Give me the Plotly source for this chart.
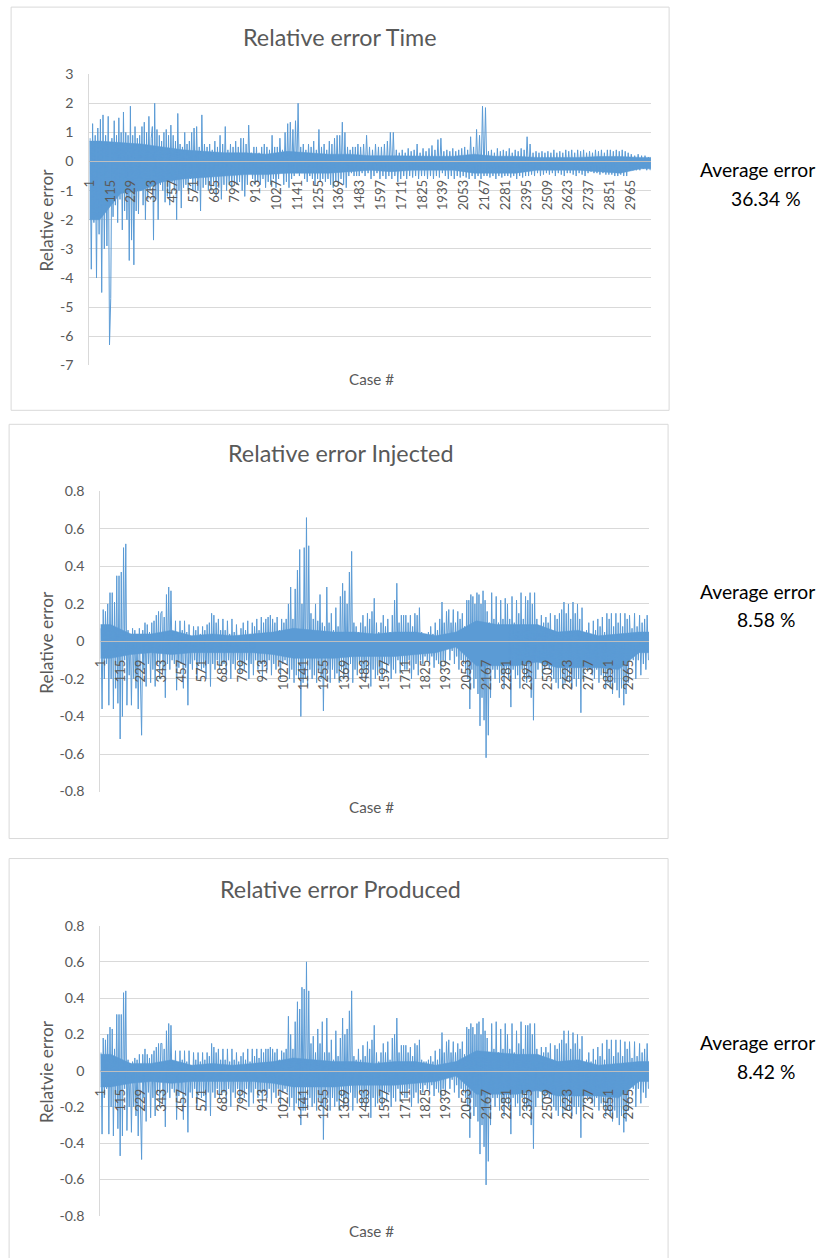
import plotly.graph_objects as go

# ---------------- data ----------------
N_CASES = 3077
SEG_LEN = 114
case_labels = [1, 115, 229, 343, 457, 571, 685, 799, 913, 1027, 1141, 1255, 1369,
               1483, 1597, 1711, 1825, 1939, 2053, 2167, 2281, 2395, 2509, 2623,
               2737, 2851, 2965]
time_yticks = [3, 2, 1, 0, -1, -2, -3, -4, -5, -6, -7]
frac_yticks = [0.8, 0.6, 0.4, 0.2, 0, -0.2, -0.4, -0.6, -0.8]

# Relative error Time (values read per 114-case block, alternating peaks/troughs)
time_seg = [
    [0.8, -3.7, 1.3, -2.1, 0.9, -4.0, 1.15, -2.5, 1.45, -4.5, 1.6, -3.0, 0.9, -2.9, 1.55, -6.3],
    [-4.7, 0.8, -1.9, 1.4, -1.5, 0.9, -2.1, 1.5, -1.3, 1.0, -2.35, 1.7, -1.7, 1.0, -2.0, 0.9, -3.4, 1.9],
    [-2.7, 0.9, -3.55, 1.2, -1.7, 0.8, -1.8, 0.9, -1.0, 1.2, -1.5, 1.35, -2.0, 1.0, -1.3, 1.55, -1.0, 0.8],
    [1.2, -2.7, 2.0, -1.3, 1.1, -2.0, 0.9, -0.8, 0.7, -1.0, 1.0, -1.4, 1.1, -1.2, 0.9, -1.5, 1.25, -0.7],
    [0.9, -1.0, 0.7, -2.0, 1.65, -1.0, 0.6, -1.6, 0.5, -0.9, 1.0, -0.8, 0.6, -1.0, 0.7, -0.6, 1.0, -1.0],
    [1.15, -1.0, 1.2, -1.0, 0.5, -1.7, 1.6, -0.9, 0.6, -0.8, 0.5, -1.0, 0.6, -1.0, 0.4, -0.7],
    [0.7, -1.2, 0.5, -0.9, 0.9, -1.3, 0.6, -0.8, 1.2, -1.0, 0.4, -0.8, 0.6, -0.9, 0.5, -0.7],
    [0.7, -0.8, 0.5, -0.7, 0.8, -1.0, 0.8, -1.2, 0.6, -0.8, 1.25, -0.3, 0.3, -0.6, 0.5, -0.8],
    [0.5, -0.7, 0.3, -0.8, 0.5, -0.6, 0.6, -0.9, 0.5, -0.7, 0.4, -0.8, 0.9, -0.6, 0.5, -0.9],
    [0.5, -0.6, 0.8, -0.2, 0.4, -0.8, 1.0, -0.7, 1.3, -0.9, 1.35, -0.6, 1.1, -0.5, 1.4, -0.4],
    [2.0, -0.5, 0.5, -0.4, 0.6, -0.6, 0.4, -0.7, 0.6, -0.5, 0.5, -0.6, 0.7, -0.8, 0.4, -0.6],
    [1.1, -0.7, 0.5, -0.6, 0.6, -0.7, 0.4, -0.6, 0.7, -0.8, 0.6, -0.9, 0.8, -0.7, 0.9, -0.8],
    [0.9, -0.6, 1.35, -0.8, 1.0, -0.9, 0.5, -0.5, 0.4, -0.4, 0.5, -0.5, 0.5, -0.5, 0.6, -0.5],
    [0.5, -0.4, 0.6, -0.5, 0.9, -0.4, 0.5, -0.6, 0.4, -0.5, 0.6, -0.4, 0.5, -0.6],
    [0.5, -0.5, 0.6, -0.6, 0.7, -0.5, 1.0, -0.6, 1.0, -0.5, 0.4, -0.7, 0.3, -0.6],
    [0.4, -0.5, 0.3, -0.6, 0.45, -0.5, 0.35, -0.55, 0.4, -0.5, 0.6, -0.6, 0.3, -0.5],
    [0.45, -0.5, 0.35, -0.6, 0.45, -0.5, 0.55, -0.6, 0.4, -0.5, 0.75, -0.55, 0.8, -0.4],
    [0.35, -0.5, 0.4, -0.6, 0.35, -0.5, 0.45, -0.6, 0.35, -0.5, 0.4, -0.55, 0.45, -0.5],
    [0.5, -0.55, 0.4, -0.6, 0.85, -0.5, 0.5, -0.6, 1.1, -0.5, 0.9, -0.6, 1.9, -0.5],
    [1.85, -0.5, 0.35, -0.55, 0.4, -0.5, 0.3, -0.6, 0.45, -0.5, 0.35, -0.55, 0.4, -0.5],
    [0.35, -0.5, 0.45, -0.55, 0.3, -0.5, 0.4, -0.6, 0.35, -0.5, 0.45, -0.55, 0.4, -0.5],
    [0.85, -0.5, 0.6, -0.45, 0.3, -0.5, 0.35, -0.4, 0.3, -0.5, 0.35, -0.45, 0.3, -0.4],
    [0.35, -0.45, 0.3, -0.4, 0.4, -0.5, 0.3, -0.4, 0.35, -0.45, 0.3, -0.5, 0.4, -0.4],
    [0.35, -0.4, 0.4, -0.45, 0.3, -0.5, 0.4, -0.4, 0.35, -0.45, 0.4, -0.5, 0.3, -0.4],
    [0.35, -0.35, 0.3, -0.4, 0.4, -0.4, 0.35, -0.45, 0.4, -0.4, 0.3, -0.45, 0.4, -0.45],
    [0.4, -0.45, 0.35, -0.5, 0.4, -0.5, 0.35, -0.45, 0.4, -0.5, 0.35, -0.5, 0.3, -0.3],
    [0.25, -0.3, 0.2, -0.3, 0.25, -0.3, 0.2, -0.25, 0.2, -0.3, 0.15, -0.3],
]
# dense (solid-looking) band around zero, per 114-case block
time_base_hi = [0.7, 0.65, 0.6, 0.5, 0.4, 0.35, 0.3, 0.3, 0.25, 0.35, 0.3, 0.25, 0.25, 0.2,
                0.2, 0.18, 0.18, 0.18, 0.25, 0.18, 0.18, 0.14, 0.14, 0.14, 0.17, 0.17, 0.14]
time_base_lo = [-2.0, -1.1, -1.0, -0.7, -0.6, -0.55, -0.5, -0.45, -0.45, -0.4, -0.4, -0.4,
                -0.35, -0.3, -0.35, -0.3, -0.3, -0.3, -0.4, -0.4, -0.4, -0.3, -0.3, -0.3,
                -0.35, -0.4, -0.25]

# Relative error Injected
inj_seg = [
    [0.07, -0.36, 0.17, -0.2, 0.16, -0.12, 0.2, -0.34, 0.26, -0.2, 0.26, -0.36, 0.21, -0.25, 0.35, -0.33, 0.35, -0.52],
    [0.37, -0.4, 0.5, -0.1, 0.52, -0.34, 0.06, -0.18, 0.04, -0.34, 0.07, -0.2, 0.06, -0.25, 0.03, -0.36, 0.07, -0.15],
    [-0.5, 0.06, -0.15, 0.1, -0.24, 0.09, -0.12, 0.05, -0.22, 0.1, -0.15, 0.11, -0.24, 0.14, -0.12, 0.16, -0.2, 0.15],
    [0.16, -0.15, 0.13, -0.3, 0.25, -0.12, 0.29, -0.15, 0.27, -0.1, 0.05, -0.12, 0.11, -0.26, 0.04, -0.14, 0.11, -0.12],
    [0.06, -0.25, 0.11, -0.14, 0.05, -0.34, 0.09, -0.12, 0.02, -0.15, 0.08, -0.1, 0.06, -0.2, 0.08, -0.12, 0.04, -0.15],
    [0.08, -0.14, 0.06, -0.2, 0.09, -0.12, 0.1, -0.24, 0.15, -0.12, 0.14, -0.15, 0.1, -0.1, 0.12, -0.15, 0.06, -0.12],
    [0.12, -0.12, 0.06, -0.18, 0.11, -0.1, 0.04, -0.2, 0.12, -0.12, 0.05, -0.15, 0.09, -0.1, 0.03, -0.17, 0.07, -0.12],
    [0.1, -0.15, 0.06, -0.1, 0.11, -0.2, 0.04, -0.12, 0.1, -0.18, 0.08, -0.1, 0.12, -0.15, 0.06, -0.12, 0.13, -0.2],
    [0.1, -0.12, 0.12, -0.15, 0.13, -0.1, 0.14, -0.18, 0.12, -0.12, 0.1, -0.15, 0.13, -0.1, 0.06, -0.2, 0.12, -0.12],
    [0.1, -0.1, 0.12, -0.12, 0.2, -0.2, 0.29, -0.15, 0.12, -0.22, 0.28, -0.18, 0.38, -0.2, 0.49, -0.4, 0.2, -0.22],
    [0.5, -0.2, 0.66, -0.24, 0.51, -0.15, 0.15, -0.2, 0.12, -0.18, 0.2, -0.22, 0.11, -0.15, 0.25, -0.2, 0.1, -0.37],
    [0.08, -0.2, 0.29, -0.15, 0.1, -0.22, 0.15, -0.15, 0.06, -0.2, 0.18, -0.17, 0.08, -0.22, 0.24, -0.15, 0.31, -0.2],
    [0.27, -0.15, 0.2, -0.2, 0.37, -0.12, 0.48, -0.22, 0.1, -0.15, 0.08, -0.18, 0.05, -0.12, 0.1, -0.2, 0.14, -0.15],
    [0.08, -0.2, 0.15, -0.15, 0.12, -0.24, 0.16, -0.15, 0.23, -0.2, 0.1, -0.18, 0.05, -0.15, 0.1, -0.2, 0.14, -0.12],
    [0.08, -0.17, 0.12, -0.12, 0.05, -0.2, 0.14, -0.15, 0.22, -0.17, 0.31, -0.1, 0.1, -0.17, 0.14, -0.12, 0.14, -0.15],
    [0.14, -0.15, 0.1, -0.1, 0.14, -0.2, 0.08, -0.15, 0.15, -0.12, 0.14, -0.18, 0.18, -0.1, 0.05, -0.12, 0.04, -0.08],
    [0.04, -0.1, 0.05, -0.12, 0.08, -0.08, 0.04, -0.14, 0.1, -0.1, 0.06, -0.12, 0.12, -0.15, 0.21, -0.1, 0.1, -0.12],
    [0.16, -0.03, 0.17, -0.1, 0.1, -0.05, 0.17, -0.12, 0.1, -0.08, 0.16, -0.15, 0.12, -0.1, 0.15, -0.12, 0.08, -0.15],
    [0.22, -0.2, 0.22, -0.36, 0.25, -0.15, 0.24, -0.25, 0.2, -0.2, 0.26, -0.28, 0.25, -0.45, 0.2, -0.3, 0.27, -0.42, 0.22, -0.62],
    [0.16, -0.5, 0.1, -0.3, 0.26, -0.15, 0.12, -0.2, 0.24, -0.15, 0.1, -0.22, 0.22, -0.18, 0.12, -0.25, 0.23, -0.15],
    [0.2, -0.2, 0.12, -0.35, 0.24, -0.15, 0.1, -0.2, 0.22, -0.18, 0.15, -0.25, 0.26, -0.15, 0.12, -0.2, 0.24, -0.22],
    [0.22, -0.2, 0.26, -0.3, 0.2, -0.42, 0.26, -0.2, 0.12, -0.15, 0.04, -0.1, 0.14, -0.2, 0.1, -0.15, 0.13, -0.12],
    [0.1, -0.15, 0.15, -0.18, 0.06, -0.2, 0.14, -0.22, 0.12, -0.25, 0.15, -0.2, 0.17, -0.25, 0.21, -0.22, 0.15, -0.2],
    [0.2, -0.22, 0.12, -0.25, 0.21, -0.2, 0.15, -0.24, 0.2, -0.2, 0.12, -0.38, 0.18, -0.2, 0.03, -0.12, 0.06, -0.15],
    [0.1, -0.15, 0.04, -0.18, 0.11, -0.2, 0.06, -0.15, 0.12, -0.22, 0.08, -0.18, 0.13, -0.2, 0.05, -0.25, 0.15, -0.22],
    [0.12, -0.25, 0.15, -0.28, 0.08, -0.22, 0.15, -0.26, 0.1, -0.3, 0.15, -0.25, 0.08, -0.34, 0.15, -0.28, 0.12, -0.22],
    [0.14, -0.05, 0.07, -0.1, 0.15, -0.2, 0.08, -0.1, 0.14, -0.18, 0.1, -0.12, 0.12, -0.15, 0.14, -0.1],
]
inj_base_hi = [0.09, 0.04, 0.04, 0.06, 0.03, 0.04, 0.03, 0.04, 0.05, 0.07, 0.06, 0.05, 0.05,
               0.04, 0.05, 0.05, 0.03, 0.05, 0.11, 0.09, 0.09, 0.09, 0.05, 0.06, 0.03, 0.04, 0.05]
inj_base_lo = [-0.09, -0.07, -0.06, -0.07, -0.06, -0.06, -0.06, -0.06, -0.07, -0.09, -0.09, -0.09,
               -0.08, -0.08, -0.08, -0.07, -0.06, -0.03, -0.13, -0.13, -0.13, -0.11, -0.14,
               -0.14, -0.14, -0.15, -0.06]

# Relative error Produced
prod_seg = [
    [0.1, -0.35, 0.18, -0.15, 0.17, -0.1, 0.2, -0.35, 0.24, -0.2, 0.23, -0.36, 0.12, -0.2, 0.31, -0.32, 0.31, -0.47],
    [0.31, -0.36, 0.43, -0.1, 0.44, -0.33, 0.06, -0.2, 0.04, -0.34, 0.05, -0.2, 0.07, -0.25, 0.06, -0.36, 0.09, -0.15],
    [-0.49, 0.09, -0.15, 0.12, -0.28, 0.09, -0.12, 0.07, -0.26, 0.09, -0.15, 0.11, -0.25, 0.13, -0.12, 0.15, -0.2, 0.15],
    [0.15, -0.15, 0.12, -0.31, 0.22, -0.12, 0.26, -0.15, 0.25, -0.1, 0.05, -0.12, 0.11, -0.27, 0.04, -0.14, 0.11, -0.12],
    [0.06, -0.27, 0.11, -0.14, 0.05, -0.34, 0.11, -0.12, 0.03, -0.15, 0.1, -0.1, 0.06, -0.2, 0.1, -0.12, 0.05, -0.15],
    [0.1, -0.14, 0.06, -0.22, 0.1, -0.12, 0.08, -0.25, 0.15, -0.12, 0.13, -0.15, 0.1, -0.1, 0.12, -0.15, 0.06, -0.12],
    [0.12, -0.12, 0.06, -0.18, 0.12, -0.1, 0.05, -0.2, 0.12, -0.12, 0.06, -0.15, 0.1, -0.1, 0.05, -0.17, 0.08, -0.12],
    [0.1, -0.15, 0.06, -0.1, 0.12, -0.2, 0.05, -0.12, 0.12, -0.18, 0.08, -0.1, 0.12, -0.15, 0.07, -0.12, 0.12, -0.2],
    [0.1, -0.12, 0.12, -0.15, 0.12, -0.1, 0.13, -0.18, 0.12, -0.12, 0.1, -0.15, 0.12, -0.1, 0.06, -0.2, 0.11, -0.12],
    [0.1, -0.1, 0.12, -0.12, 0.3, -0.2, 0.2, -0.15, 0.12, -0.22, 0.27, -0.18, 0.38, -0.2, 0.34, -0.3, 0.46, -0.22],
    [0.45, -0.22, 0.6, -0.2, 0.44, -0.15, 0.15, -0.2, 0.19, -0.18, 0.1, -0.22, 0.23, -0.15, 0.15, -0.2, 0.27, -0.38],
    [0.1, -0.2, 0.29, -0.15, 0.1, -0.22, 0.17, -0.15, 0.06, -0.2, 0.22, -0.17, 0.08, -0.22, 0.18, -0.15, 0.29, -0.2],
    [0.2, -0.15, 0.23, -0.2, 0.33, -0.12, 0.44, -0.22, 0.08, -0.15, 0.06, -0.18, 0.12, -0.12, 0.06, -0.2, 0.14, -0.15],
    [0.08, -0.2, 0.16, -0.15, 0.12, -0.26, 0.17, -0.15, 0.25, -0.2, 0.1, -0.18, 0.05, -0.15, 0.1, -0.2, 0.15, -0.12],
    [0.1, -0.17, 0.16, -0.12, 0.06, -0.2, 0.18, -0.15, 0.2, -0.17, 0.29, -0.1, 0.1, -0.17, 0.14, -0.12, 0.14, -0.15],
    [0.14, -0.15, 0.1, -0.1, 0.13, -0.2, 0.08, -0.15, 0.15, -0.12, 0.14, -0.18, 0.17, -0.1, 0.06, -0.12, 0.05, -0.08],
    [0.05, -0.1, 0.06, -0.12, 0.08, -0.08, 0.05, -0.14, 0.11, -0.1, 0.06, -0.12, 0.12, -0.15, 0.21, -0.1, 0.1, -0.12],
    [0.16, -0.03, 0.17, -0.1, 0.1, -0.05, 0.16, -0.12, 0.1, -0.08, 0.15, -0.15, 0.12, -0.1, 0.16, -0.12, 0.09, -0.15],
    [0.24, -0.2, 0.23, -0.37, 0.26, -0.15, 0.24, -0.25, 0.2, -0.2, 0.26, -0.28, 0.27, -0.46, 0.2, -0.3, 0.29, -0.42, 0.22, -0.63],
    [0.18, -0.5, 0.1, -0.3, 0.26, -0.15, 0.12, -0.2, 0.27, -0.15, 0.1, -0.22, 0.23, -0.18, 0.12, -0.25, 0.26, -0.15],
    [0.2, -0.2, 0.12, -0.35, 0.26, -0.15, 0.1, -0.2, 0.22, -0.18, 0.15, -0.25, 0.27, -0.15, 0.12, -0.2, 0.25, -0.22],
    [0.25, -0.2, 0.26, -0.3, 0.2, -0.43, 0.26, -0.2, 0.12, -0.15, 0.05, -0.1, 0.13, -0.2, 0.1, -0.15, 0.13, -0.12],
    [0.1, -0.15, 0.15, -0.18, 0.06, -0.2, 0.14, -0.22, 0.12, -0.25, 0.15, -0.2, 0.17, -0.25, 0.22, -0.22, 0.15, -0.2],
    [0.22, -0.22, 0.12, -0.25, 0.21, -0.2, 0.15, -0.24, 0.2, -0.2, 0.12, -0.37, 0.19, -0.2, 0.03, -0.12, 0.06, -0.15],
    [0.1, -0.15, 0.05, -0.18, 0.12, -0.2, 0.06, -0.15, 0.13, -0.22, 0.08, -0.18, 0.15, -0.2, 0.06, -0.25, 0.17, -0.22],
    [0.12, -0.25, 0.17, -0.28, 0.08, -0.22, 0.17, -0.26, 0.1, -0.3, 0.17, -0.25, 0.08, -0.34, 0.16, -0.28, 0.12, -0.22],
    [0.16, -0.05, 0.07, -0.1, 0.16, -0.2, 0.08, -0.1, 0.15, -0.18, 0.1, -0.12, 0.12, -0.15, 0.15, -0.1],
]
prod_base_hi = [0.09, 0.04, 0.04, 0.06, 0.03, 0.04, 0.03, 0.04, 0.05, 0.07, 0.06, 0.05, 0.05,
                0.04, 0.05, 0.05, 0.03, 0.05, 0.11, 0.1, 0.09, 0.09, 0.05, 0.06, 0.03, 0.04, 0.05]
prod_base_lo = [-0.09, -0.07, -0.06, -0.07, -0.06, -0.06, -0.06, -0.06, -0.07, -0.09, -0.09, -0.09,
                -0.08, -0.08, -0.08, -0.07, -0.06, -0.03, -0.13, -0.13, -0.13, -0.11, -0.14,
                -0.14, -0.14, -0.15, -0.06]

titles = ["Relative error Time", "Relative error Injected", "Relative error Produced"]
ytitles = ["Relative error", "Relative error", "Relatvie error"]
avg_errors = ["36.34 %", "8.58 %", "8.42 %"]
y_ranges = [(-7, 3), (-0.8, 0.8), (-0.8, 0.8)]
y_ticks = [time_yticks, frac_yticks, frac_yticks]


def seg_bounds(k):
    start = 1 + SEG_LEN * k
    end = min(SEG_LEN * (k + 1), N_CASES)
    return start, end


def expand(segments):
    xs, ys = [], []
    for k, seg in enumerate(segments):
        start, end = seg_bounds(k)
        width = end - start + 1
        n = len(seg)
        for j, v in enumerate(seg):
            xs.append(start - 0.5 + (j + 0.5) * width / n)
            ys.append(v)
    return xs, ys


def band(hi, lo):
    xs = []
    for k in range(len(hi)):
        s, e = seg_bounds(k)
        xs.append((s + e) / 2)
    xs = [1] + xs + [N_CASES]
    hi = [hi[0]] + list(hi) + [hi[-1]]
    lo = [lo[0]] + list(lo) + [lo[-1]]
    return xs + xs[::-1], hi + lo[::-1]


def fmt(v):
    return "%g" % v


# ---------------- layout helpers ----------------
# The capture shows the page with the default 8px body margin and a slight
# overall down-scaling; reference pixel positions are converted accordingly.
SCALE = 0.986
OFF = 8
W = int(round(820 / SCALE)) - 2 * OFF
H = int(round(1258 / SCALE)) - 2 * OFF


def px(x):
    return (x / SCALE - OFF) / W


def py(y):
    return 1 - (y / SCALE - OFF) / H


def fs(size):
    return size / SCALE


plot_boxes = [  # left, right, top, bottom (reference pixels)
    (88, 648, 73, 364),
    (99, 646, 490, 790),
    (99, 646, 924, 1214),
]
frames = [(10, 666, 6, 409), (8, 665, 423, 837), (8, 665, 857, 1270)]
title_y = [36, 452, 887]
case_y = [378, 805, 1229]
ytitle_y = [219, 641, 1070]
avg_y = [(168, 197), (590, 618), (1041, 1070)]

FONT = "Lato, 'Open Sans', sans-serif"
GREY = "#595959"
BLUE = "#5B9BD5"

fig = go.Figure()
layout = dict(
    width=W, height=H, margin=dict(l=0, r=0, t=0, b=0),
    paper_bgcolor="white", plot_bgcolor="white", showlegend=False,
    font=dict(family=FONT, color=GREY),
)
annotations = []
shapes = []

series = [(time_seg, time_base_hi, time_base_lo),
          (inj_seg, inj_base_hi, inj_base_lo),
          (prod_seg, prod_base_hi, prod_base_lo)]

for i, (seg, bhi, blo) in enumerate(series):
    sfx = "" if i == 0 else str(i + 1)
    bx, by = band(bhi, blo)
    fig.add_trace(go.Scatter(
        x=bx, y=by, mode="lines", fill="toself", fillcolor=BLUE,
        line=dict(color=BLUE, width=0.5),
        xaxis="x" + sfx, yaxis="y" + sfx, hoverinfo="skip",
    ))
    xs, ys = expand(seg)
    fig.add_trace(go.Scatter(
        x=xs, y=ys, mode="lines", line=dict(color=BLUE, width=1),
        xaxis="x" + sfx, yaxis="y" + sfx, hoverinfo="skip",
    ))
    l, r, t, b = plot_boxes[i]
    ymin, ymax = y_ranges[i]
    ydom = [py(b), py(t)]
    zero_pos = ydom[0] + (0 - ymin) / (ymax - ymin) * (ydom[1] - ydom[0])
    layout["xaxis" + sfx] = dict(
        domain=[px(l), px(r)], range=[0.5, N_CASES + 0.5],
        anchor="free", position=zero_pos,
        tickmode="array", tickvals=case_labels, ticktext=[str(c) for c in case_labels],
        tickangle=-90, ticks="", ticklabelstandoff=12,
        tickfont=dict(size=fs(13), color=GREY, family=FONT),
        showgrid=False, zeroline=False, showline=True, linecolor="#bfbfbf",
        linewidth=1, layer="above traces", fixedrange=True,
    )
    layout["yaxis" + sfx] = dict(
        domain=ydom, range=[ymin, ymax],
        tickmode="array", tickvals=y_ticks[i], ticktext=[fmt(v) for v in y_ticks[i]],
        anchor="x" + sfx, showgrid=True, gridcolor="#d9d9d9", gridwidth=1,
        zeroline=False, showline=True, linecolor="#d9d9d9", ticks="",
        tickfont=dict(size=fs(14), color=GREY, family=FONT), ticklabelstandoff=12,
        fixedrange=True,
    )
    fl, fr, ft, fb = frames[i]
    shapes.append(dict(type="rect", xref="paper", yref="paper",
                       x0=px(fl), x1=px(fr), y0=py(fb), y1=py(ft),
                       line=dict(color="#d9d9d9", width=1), fillcolor="rgba(0,0,0,0)",
                       layer="below"))
    annotations.append(dict(text=titles[i], xref="paper", yref="paper",
                            x=px(338), y=py(title_y[i]), showarrow=False,
                            xanchor="center", yanchor="middle",
                            font=dict(size=fs(23), color=GREY, family=FONT)))
    annotations.append(dict(text="Case #", xref="paper", yref="paper",
                            x=px(369), y=py(case_y[i]), showarrow=False,
                            xanchor="center", yanchor="middle",
                            font=dict(size=fs(15), color=GREY, family=FONT)))
    annotations.append(dict(text=ytitles[i], xref="paper", yref="paper",
                            x=px(45), y=py(ytitle_y[i]), showarrow=False,
                            textangle=-90, xanchor="center", yanchor="middle",
                            font=dict(size=fs(17), color=GREY, family=FONT)))
    annotations.append(dict(text="Average error", xref="paper", yref="paper",
                            x=px(754), y=py(avg_y[i][0]), showarrow=False,
                            xanchor="center", yanchor="middle",
                            font=dict(size=fs(19), color="#000000", family=FONT)))
    annotations.append(dict(text=avg_errors[i], xref="paper", yref="paper",
                            x=px(763), y=py(avg_y[i][1]), showarrow=False,
                            xanchor="center", yanchor="middle",
                            font=dict(size=fs(19), color="#000000", family=FONT)))

layout["annotations"] = annotations
layout["shapes"] = shapes
fig.update_layout(**layout)
fig.write_html("out.html")
